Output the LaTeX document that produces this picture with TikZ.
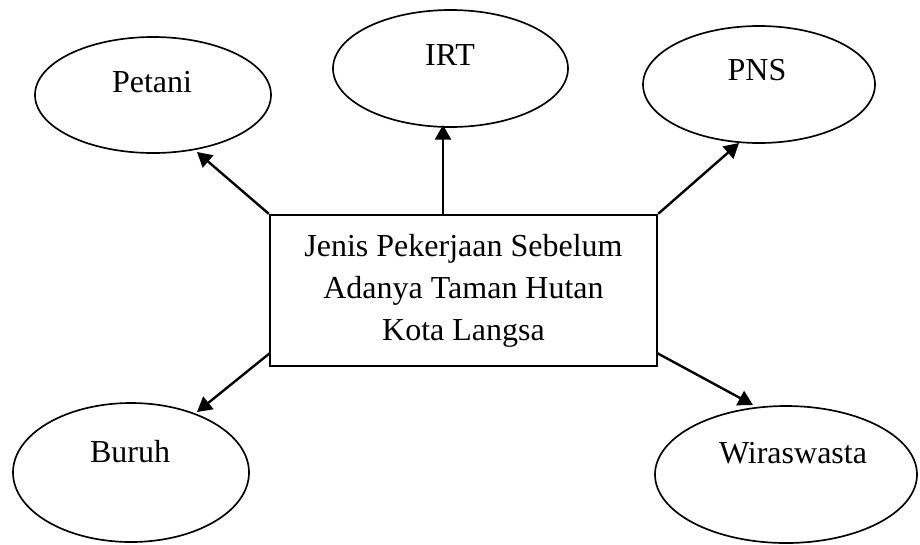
\documentclass[tikz,border=0pt]{standalone}
\usepackage{fontspec}
\setmainfont{Liberation Serif}
\usetikzlibrary{shapes.geometric,arrows.meta}
\begin{document}
\begin{tikzpicture}[x=0.75pt,y=-0.75pt,
  oval/.style={draw,ellipse,line width=1.25pt,inner sep=0pt},
  lbl/.style={anchor=base,inner sep=0pt,font=\fontsize{24}{29}\selectfont},
  mainbox/.style={draw,rectangle,line width=1.8pt,minimum width=387*0.75pt,minimum height=151*0.75pt,align=center,inner sep=0pt,font=\fontsize{24}{31.5}\selectfont},
  arr/.style={line width=1.8pt,-{Triangle[length=11pt,width=12pt]}}]
\useasboundingbox (0,0) rectangle (920,544);
% ellipses
\node[oval,minimum width=236*0.75pt,minimum height=116*0.75pt] (petani) at (153,95) {};
\node[oval,minimum width=235*0.75pt,minimum height=117*0.75pt] (irt) at (450.5,68.5) {};
\node[oval,minimum width=232*0.75pt,minimum height=117*0.75pt] (pns) at (759,84.5) {};
\node[oval,minimum width=236*0.75pt,minimum height=139*0.75pt] (buruh) at (131,472.5) {};
\node[oval,minimum width=262*0.75pt,minimum height=137*0.75pt] (wira) at (786,474.5) {};
% labels
\node[lbl] (petanit) at (152,92) {Petani};
\node[lbl] (irtt) at (450,65) {IRT};
\node[lbl] (pnst) at (757,80) {PNS};
\node[lbl] (buruht) at (130,462) {Buruh};
\node[lbl] (wirat) at (793,463) {Wiraswasta};
% central box
\node[mainbox] (box) at (463.5,290.5) {Jenis Pekerjaan Sebelum\\Adanya Taman Hutan\\Kota Langsa};
% connector ends
\coordinate (sIrt) at (443,215);
\coordinate (sBuruh) at (270,353);
\coordinate (sWira) at (657,353);
\coordinate (tPetani) at (197,152);
\coordinate (tIrt) at (443,125);
\coordinate (tPns) at (739,143);
\coordinate (tBuruh) at (197,412);
\coordinate (tWira) at (753,405);
% arrows
\draw[arr] (box.north west) -- (tPetani);
\draw[arr] (sIrt) -- (tIrt);
\draw[arr] (box.north east) -- (tPns);
\draw[arr] (sBuruh) -- (tBuruh);
\draw[arr] (sWira) -- (tWira);
\end{tikzpicture}
\end{document}
